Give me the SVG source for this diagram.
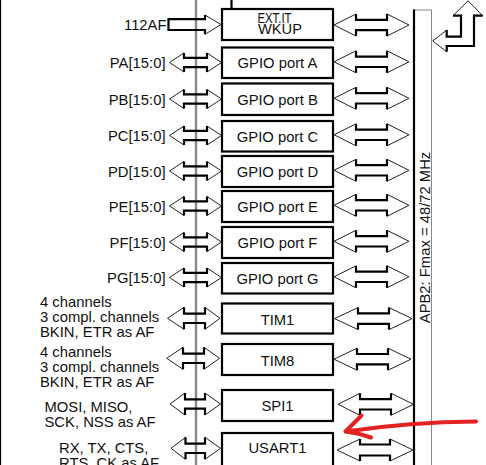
<svg xmlns="http://www.w3.org/2000/svg" width="486" height="465" viewBox="0 0 486 465">
<style>
text{font-family:"Liberation Sans",Arial,sans-serif;font-size:14.8px;fill:#111}
.c{text-anchor:middle}
.e{text-anchor:end}
.box{fill:#fff;stroke:#000;stroke-width:2.2}
.thin{fill:none;stroke:#222;stroke-width:1}
.thick{fill:none;stroke:#000;stroke-width:2.2}
.red{fill:none;stroke:#e32222;stroke-width:4;stroke-linecap:round;stroke-linejoin:round}
</style>
<rect width="486" height="465" fill="#fff"/>
<line x1="0.5" y1="0" x2="0.5" y2="465" stroke="#000" stroke-width="1.2"/>
<line x1="196" y1="0" x2="196" y2="465" stroke="#8c8c8c" stroke-width="2.5"/>
<g id="apb2">
<rect x="414" y="10" width="17.5" height="460" fill="#fff" stroke="#888" stroke-width="1"/>
<line x1="414" y1="9.5" x2="414" y2="465" stroke="#000" stroke-width="2.2"/>
<text transform="translate(429.5,237.5) rotate(-90)" class="c">APB2: Fmax = 48/72 MHz</text>
</g>
<g id="connectors">
<line x1="231.5" y1="0" x2="231.5" y2="9" class="thick"/>
<path class="thin" d="M205,15 L221,24.6 L205,34.3"/>
<path class="thick" d="M205,15 V19.2 H168.5 V30 H205 V34.3"/>
<path class="thin" d="M446.7,30 L432.7,41 L446.7,51.7 M453,15.7 L468,0.8 L482.7,15.7"/>
<path class="thick" d="M446.7,30 V36.7 H461 V15.7 H453 M446.7,51.7 V46 H474 V15.7 H482.7"/>
<path class="thin" d="M356,14 L334,25 L356,36 M387,14 L409,25 L387,36"/>
<path class="thick" d="M356,14 V19.8 H387 V14 M356,36 V30.2 H387 V36"/>
<path class="thin" d="M356,50.8 L334,61.8 L356,72.8 M387,50.8 L409,61.8 L387,72.8"/>
<path class="thick" d="M356,50.8 V56.6 H387 V50.8 M356,72.8 V67 H387 V72.8"/>
<path class="thin" d="M356,87.3 L334,98.3 L356,109.3 M387,87.3 L409,98.3 L387,109.3"/>
<path class="thick" d="M356,87.3 V93.1 H387 V87.3 M356,109.3 V103.5 H387 V109.3"/>
<path class="thin" d="M356,123.8 L334,134.8 L356,145.8 M387,123.8 L409,134.8 L387,145.8"/>
<path class="thick" d="M356,123.8 V129.6 H387 V123.8 M356,145.8 V140 H387 V145.8"/>
<path class="thin" d="M356,159.3 L334,170.3 L356,181.3 M387,159.3 L409,170.3 L387,181.3"/>
<path class="thick" d="M356,159.3 V165.1 H387 V159.3 M356,181.3 V175.5 H387 V181.3"/>
<path class="thin" d="M356,194.3 L334,205.3 L356,216.3 M387,194.3 L409,205.3 L387,216.3"/>
<path class="thick" d="M356,194.3 V200.1 H387 V194.3 M356,216.3 V210.5 H387 V216.3"/>
<path class="thin" d="M356,230.3 L334,241.3 L356,252.3 M387,230.3 L409,241.3 L387,252.3"/>
<path class="thick" d="M356,230.3 V236.1 H387 V230.3 M356,252.3 V246.5 H387 V252.3"/>
<path class="thin" d="M356,265.8 L334,276.8 L356,287.8 M387,265.8 L409,276.8 L387,287.8"/>
<path class="thick" d="M356,265.8 V271.6 H387 V265.8 M356,287.8 V282 H387 V287.8"/>
<path class="thin" d="M358,307.6 L334.5,318.6 L358,329.6 M389,307.6 L412,318.6 L389,329.6"/>
<path class="thick" d="M358,307.6 V313.4 H389 V307.6 M358,329.6 V323.8 H389 V329.6"/>
<path class="thin" d="M357,348.2 L334,359.2 L357,370.2 M388,348.2 L411,359.2 L388,370.2"/>
<path class="thick" d="M357,348.2 V354 H388 V348.2 M357,370.2 V364.4 H388 V370.2"/>
<path class="thin" d="M360,393.3 L338,404.3 L360,415.3 M391,393.3 L413.5,404.3 L391,415.3"/>
<path class="thick" d="M360,393.3 V399.1 H391 V393.3 M360,415.3 V409.5 H391 V415.3"/>
<path class="thin" d="M360,439 L337,450 L360,461 M390,439 L413,450 L390,461"/>
<path class="thick" d="M360,439 V444.5 H390 V439 M360,461 V455.5 H390 V461"/>
<path class="thin" d="M184,53 L169.5,62.5 L184,72 M207,53 L221.5,62.5 L207,72"/>
<path class="thick" d="M184,53 V57.9 H207 V53 M184,72 V67.1 H207 V72"/>
<path class="thin" d="M184,89.5 L169.5,99 L184,108.5 M207,89.5 L221.5,99 L207,108.5"/>
<path class="thick" d="M184,89.5 V94.4 H207 V89.5 M184,108.5 V103.6 H207 V108.5"/>
<path class="thin" d="M184,126 L169.5,135.5 L184,145 M207,126 L221.5,135.5 L207,145"/>
<path class="thick" d="M184,126 V130.9 H207 V126 M184,145 V140.1 H207 V145"/>
<path class="thin" d="M184,161.5 L169.5,171 L184,180.5 M207,161.5 L221.5,171 L207,180.5"/>
<path class="thick" d="M184,161.5 V166.4 H207 V161.5 M184,180.5 V175.6 H207 V180.5"/>
<path class="thin" d="M184,196.5 L169.5,206 L184,215.5 M207,196.5 L221.5,206 L207,215.5"/>
<path class="thick" d="M184,196.5 V201.4 H207 V196.5 M184,215.5 V210.6 H207 V215.5"/>
<path class="thin" d="M184,232.5 L169.5,242 L184,251.5 M207,232.5 L221.5,242 L207,251.5"/>
<path class="thick" d="M184,232.5 V237.4 H207 V232.5 M184,251.5 V246.6 H207 V251.5"/>
<path class="thin" d="M184,268 L169.5,277.5 L184,287 M207,268 L221.5,277.5 L207,287"/>
<path class="thick" d="M184,268 V272.9 H207 V268 M184,287 V282.1 H207 V287"/>
<path class="thin" d="M184,307.3 L167.5,318.3 L184,329.3 M205,307.3 L220,318.3 L205,329.3"/>
<path class="thick" d="M184,307.3 V313.6 H205 V307.3 M184,329.3 V323 H205 V329.3"/>
<path class="thin" d="M183,347.3 L166.7,358.3 L183,369.3 M204,347.3 L219.5,358.3 L204,369.3"/>
<path class="thick" d="M183,347.3 V353.6 H204 V347.3 M183,369.3 V363 H204 V369.3"/>
<path class="thin" d="M185,393 L170,404 L185,415 M205,393 L220.5,404 L205,415"/>
<path class="thick" d="M185,393 V399.3 H205 V393 M185,415 V408.7 H205 V415"/>
<path class="thin" d="M185.5,437.3 L171,448.3 L185.5,459.3 M205,437.3 L220.5,448.3 L205,459.3"/>
<path class="thick" d="M185.5,437.3 V443.6 H205 V437.3 M185.5,459.3 V453 H205 V459.3"/>
</g>
<g id="extit"><rect class="box" x="222" y="9" width="111" height="31"/>
<text x="257.5" y="23.3" textLength="34" lengthAdjust="spacingAndGlyphs">EXT.IT</text>
<text x="258" y="33.5" textLength="44" lengthAdjust="spacingAndGlyphs">WKUP</text></g>
<g id="gpioa"><rect class="box" x="222" y="47.5" width="111" height="30.5"/><text class="c" x="277.5" y="68">GPIO port A</text></g>
<g id="gpiob"><rect class="box" x="222" y="83.5" width="111" height="31.5"/><text class="c" x="277.5" y="104.8">GPIO port B</text></g>
<g id="gpioc"><rect class="box" x="222" y="121" width="111" height="30.5"/><text class="c" x="277.5" y="141.8">GPIO port C</text></g>
<g id="gpiod"><rect class="box" x="222" y="156" width="111" height="31"/><text class="c" x="277.5" y="177">GPIO port D</text></g>
<g id="gpioe"><rect class="box" x="222" y="191" width="111" height="31"/><text class="c" x="277.5" y="212">GPIO port E</text></g>
<g id="gpiof"><rect class="box" x="222" y="227" width="111" height="31"/><text class="c" x="277.5" y="248">GPIO port F</text></g>
<g id="gpiog"><rect class="box" x="222" y="263" width="111" height="30.5"/><text class="c" x="277.5" y="283.7">GPIO port G</text></g>
<g id="tim1"><rect class="box" x="222" y="303.5" width="111" height="30"/><text class="c" x="277.5" y="325">TIM1</text></g>
<g id="tim8"><rect class="box" x="222" y="344" width="111" height="31"/><text class="c" x="277.5" y="366">TIM8</text></g>
<g id="spi1"><rect class="box" x="222" y="390" width="111" height="31"/><text class="c" x="277.5" y="410.7">SPI1</text></g>
<g id="usart1"><rect class="box" x="222" y="433" width="111" height="34"/><text class="c" x="277.5" y="453.3">USART1</text></g>
<g id="labels">
<text class="e" x="166.5" y="29.5">112AF</text>
<text class="e" x="165.5" y="68">PA[15:0]</text>
<text class="e" x="165.5" y="104.5">PB[15:0]</text>
<text class="e" x="165.5" y="141">PC[15:0]</text>
<text class="e" x="165.5" y="176.5">PD[15:0]</text>
<text class="e" x="165.5" y="211.5">PE[15:0]</text>
<text class="e" x="165.5" y="247.5">PF[15:0]</text>
<text class="e" x="165.5" y="283">PG[15:0]</text>
<text x="40" y="306.5">4 channels</text>
<text x="40" y="321.5">3 compl. channels</text>
<text x="40" y="336.5">BKIN, ETR as AF</text>
<text x="40" y="356.5">4 channels</text>
<text x="40" y="371.5">3 compl. channels</text>
<text x="40" y="386.5">BKIN, ETR as AF</text>
<text x="44.5" y="411.5">MOSI, MISO,</text>
<text x="44.5" y="426.5">SCK, NSS as AF</text>
<text x="59" y="453">RX, TX, CTS,</text>
<text x="59" y="468">RTS, CK as AF</text>
</g>
<g id="annotation">
<path class="red" d="M476,421.5 Q410,422 346,431.5"/>
<path class="red" d="M361.5,415.5 L345.5,431.5 Q358,433 371,437.5"/>
</g>
</svg>
